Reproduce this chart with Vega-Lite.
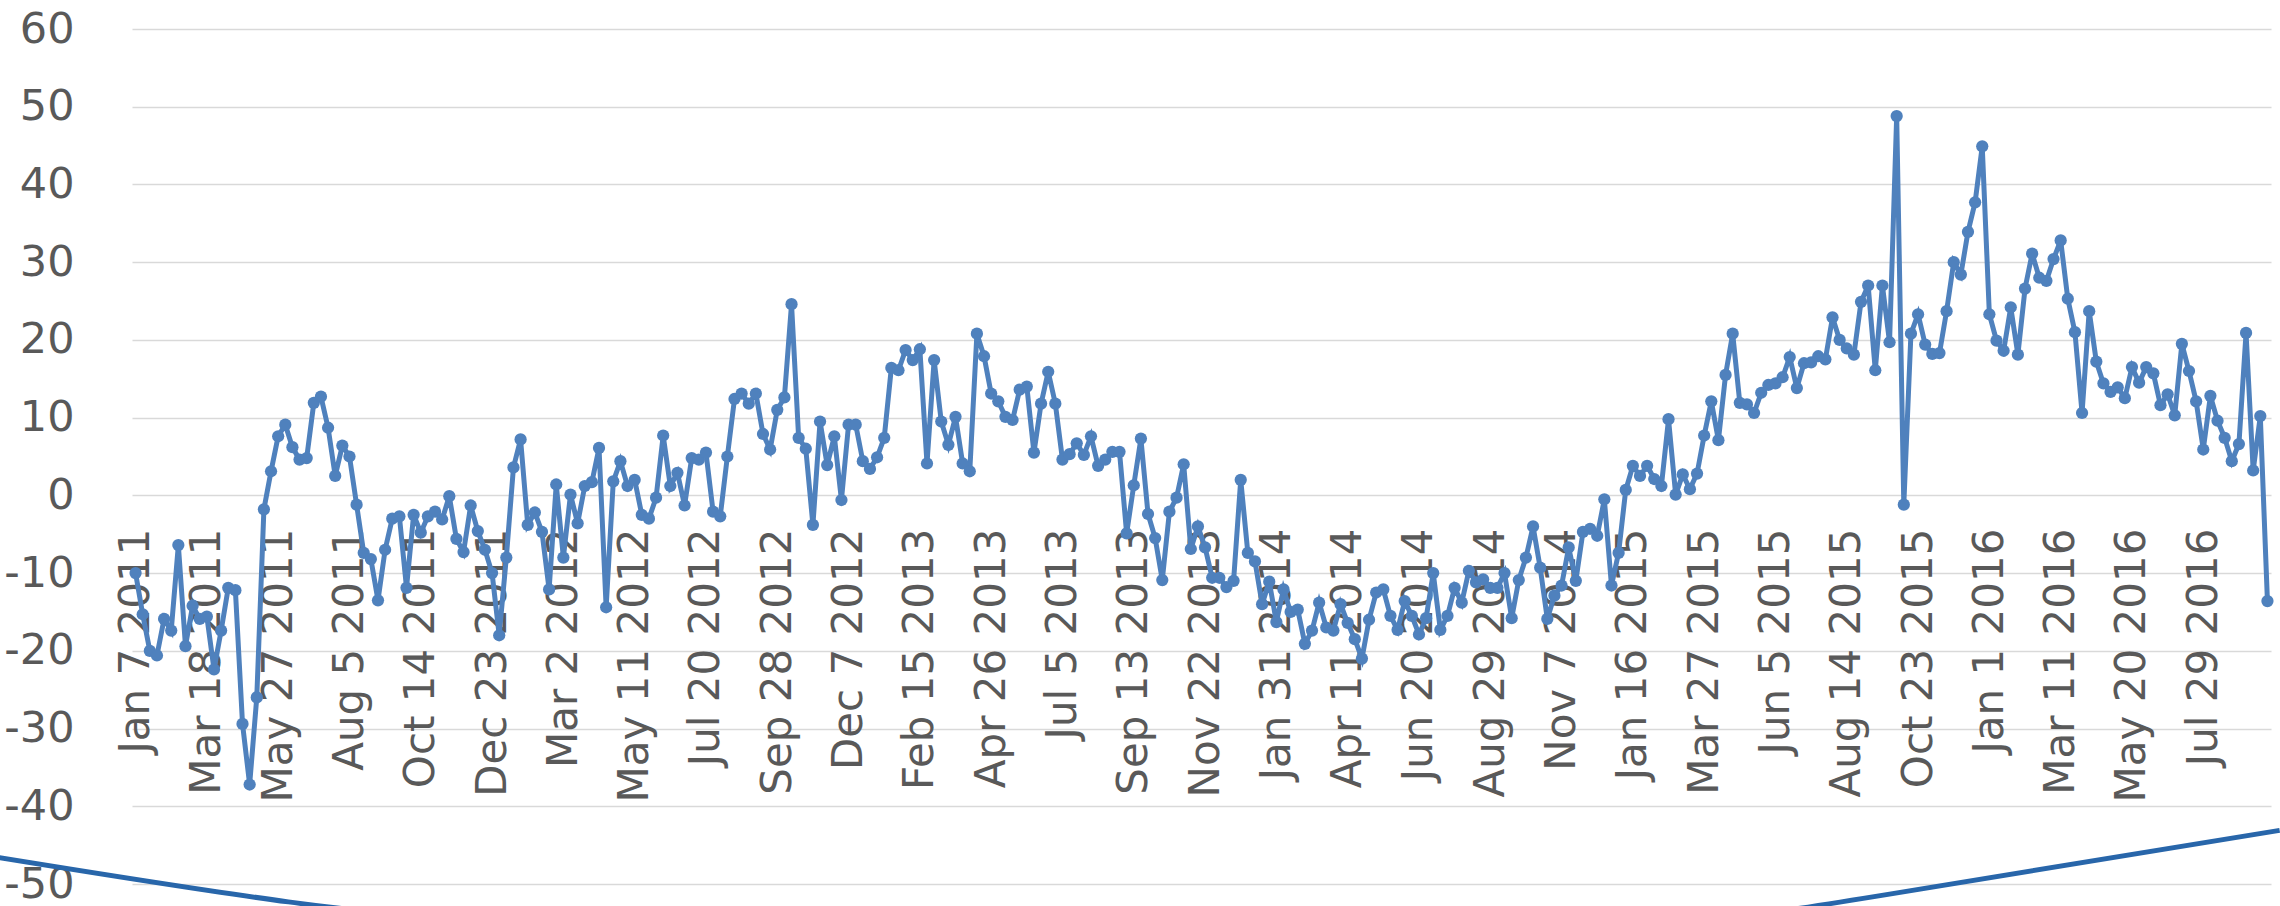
{
"$schema": "https://vega.github.io/schema/vega-lite/v6.json",
"width": 2139, "height": 855,
"autosize": {"type": "none"},
"padding": {"left": 132, "top": 29, "right": 9, "bottom": 22},
"background": "white",
"config": {"view": {"stroke": null}, "font": "DejaVu Sans"},
"datasets": {
"s": [
{"d":"2011-01-07","v":-10.0},{"d":"2011-01-14","v":-15.3},{"d":"2011-01-21","v":-20.0},{"d":"2011-01-28","v":-20.6},{"d":"2011-02-04","v":-15.9},{"d":"2011-02-11","v":-17.4},{"d":"2011-02-18","v":-6.4},{"d":"2011-02-25","v":-19.4},{"d":"2011-03-04","v":-14.2},{"d":"2011-03-11","v":-15.9},
{"d":"2011-03-18","v":-15.6},{"d":"2011-03-25","v":-22.4},{"d":"2011-04-01","v":-17.4},{"d":"2011-04-08","v":-11.9},{"d":"2011-04-15","v":-12.2},{"d":"2011-04-22","v":-29.4},{"d":"2011-04-29","v":-37.2},{"d":"2011-05-06","v":-26.0},{"d":"2011-05-13","v":-1.8},{"d":"2011-05-20","v":3.1},
{"d":"2011-05-27","v":7.6},{"d":"2011-06-03","v":9.1},{"d":"2011-06-10","v":6.2},{"d":"2011-06-17","v":4.6},{"d":"2011-06-24","v":4.8},{"d":"2011-07-01","v":11.9},{"d":"2011-07-08","v":12.7},{"d":"2011-07-15","v":8.7},{"d":"2011-07-22","v":2.5},{"d":"2011-07-29","v":6.4},
{"d":"2011-08-05","v":5.0},{"d":"2011-08-12","v":-1.2},{"d":"2011-08-19","v":-7.4},{"d":"2011-08-26","v":-8.2},{"d":"2011-09-02","v":-13.5},{"d":"2011-09-09","v":-7.0},{"d":"2011-09-16","v":-3.0},{"d":"2011-09-23","v":-2.7},{"d":"2011-09-30","v":-11.9},{"d":"2011-10-07","v":-2.5},
{"d":"2011-10-14","v":-4.8},{"d":"2011-10-21","v":-2.7},{"d":"2011-10-28","v":-2.1},{"d":"2011-11-04","v":-3.1},{"d":"2011-11-11","v":-0.1},{"d":"2011-11-18","v":-5.6},{"d":"2011-11-25","v":-7.3},{"d":"2011-12-02","v":-1.3},{"d":"2011-12-09","v":-4.6},{"d":"2011-12-16","v":-7.0},
{"d":"2011-12-23","v":-10.0},{"d":"2011-12-30","v":-18.0},{"d":"2012-01-06","v":-8.0},{"d":"2012-01-13","v":3.6},{"d":"2012-01-20","v":7.2},{"d":"2012-01-27","v":-3.8},{"d":"2012-02-03","v":-2.2},{"d":"2012-02-10","v":-4.7},{"d":"2012-02-17","v":-12.1},{"d":"2012-02-24","v":1.4},
{"d":"2012-03-02","v":-8.0},{"d":"2012-03-09","v":0.1},{"d":"2012-03-16","v":-3.6},{"d":"2012-03-23","v":1.2},{"d":"2012-03-30","v":1.7},{"d":"2012-04-06","v":6.1},{"d":"2012-04-13","v":-14.4},{"d":"2012-04-20","v":1.8},{"d":"2012-04-27","v":4.4},{"d":"2012-05-04","v":1.2},
{"d":"2012-05-11","v":2.0},{"d":"2012-05-18","v":-2.5},{"d":"2012-05-25","v":-3.0},{"d":"2012-06-01","v":-0.3},{"d":"2012-06-08","v":7.7},{"d":"2012-06-15","v":1.2},{"d":"2012-06-22","v":2.9},{"d":"2012-06-29","v":-1.3},{"d":"2012-07-06","v":4.8},{"d":"2012-07-13","v":4.6},
{"d":"2012-07-20","v":5.5},{"d":"2012-07-27","v":-2.1},{"d":"2012-08-03","v":-2.7},{"d":"2012-08-10","v":5.0},{"d":"2012-08-17","v":12.4},{"d":"2012-08-24","v":13.1},{"d":"2012-08-31","v":11.8},{"d":"2012-09-07","v":13.1},{"d":"2012-09-14","v":7.9},{"d":"2012-09-21","v":5.9},
{"d":"2012-09-28","v":11.0},{"d":"2012-10-05","v":12.6},{"d":"2012-10-12","v":24.6},{"d":"2012-10-19","v":7.4},{"d":"2012-10-26","v":6.0},{"d":"2012-11-02","v":-3.8},{"d":"2012-11-09","v":9.5},{"d":"2012-11-16","v":3.9},{"d":"2012-11-23","v":7.6},{"d":"2012-11-30","v":-0.6},
{"d":"2012-12-07","v":9.1},{"d":"2012-12-14","v":9.1},{"d":"2012-12-21","v":4.4},{"d":"2012-12-28","v":3.4},{"d":"2013-01-04","v":4.9},{"d":"2013-01-11","v":7.4},{"d":"2013-01-18","v":16.4},{"d":"2013-01-25","v":16.1},{"d":"2013-02-01","v":18.7},{"d":"2013-02-08","v":17.4},
{"d":"2013-02-15","v":18.8},{"d":"2013-02-22","v":4.1},{"d":"2013-03-01","v":17.4},{"d":"2013-03-08","v":9.5},{"d":"2013-03-15","v":6.5},{"d":"2013-03-22","v":10.1},{"d":"2013-03-29","v":4.1},{"d":"2013-04-05","v":3.1},{"d":"2013-04-12","v":20.8},{"d":"2013-04-19","v":17.9},
{"d":"2013-04-26","v":13.1},{"d":"2013-05-03","v":12.1},{"d":"2013-05-10","v":10.1},{"d":"2013-05-17","v":9.7},{"d":"2013-05-24","v":13.6},{"d":"2013-05-31","v":14.0},{"d":"2013-06-07","v":5.5},{"d":"2013-06-14","v":11.8},{"d":"2013-06-21","v":15.9},{"d":"2013-06-28","v":11.8},
{"d":"2013-07-05","v":4.6},{"d":"2013-07-12","v":5.3},{"d":"2013-07-19","v":6.7},{"d":"2013-07-26","v":5.2},{"d":"2013-08-02","v":7.6},{"d":"2013-08-09","v":3.8},{"d":"2013-08-16","v":4.6},{"d":"2013-08-23","v":5.6},{"d":"2013-08-30","v":5.6},{"d":"2013-09-06","v":-4.9},
{"d":"2013-09-13","v":1.3},{"d":"2013-09-20","v":7.3},{"d":"2013-09-27","v":-2.4},{"d":"2013-10-04","v":-5.5},{"d":"2013-10-11","v":-10.9},{"d":"2013-10-18","v":-2.1},{"d":"2013-10-25","v":-0.3},{"d":"2013-11-01","v":4.0},{"d":"2013-11-08","v":-6.9},{"d":"2013-11-15","v":-4.0},
{"d":"2013-11-22","v":-6.7},{"d":"2013-11-29","v":-10.6},{"d":"2013-12-06","v":-10.6},{"d":"2013-12-13","v":-11.8},{"d":"2013-12-20","v":-11.0},{"d":"2013-12-27","v":2.0},{"d":"2014-01-03","v":-7.4},{"d":"2014-01-10","v":-8.5},{"d":"2014-01-17","v":-14.0},{"d":"2014-01-24","v":-11.1},
{"d":"2014-01-31","v":-16.3},{"d":"2014-02-07","v":-12.1},{"d":"2014-02-14","v":-15.0},{"d":"2014-02-21","v":-14.7},{"d":"2014-02-28","v":-19.1},{"d":"2014-03-07","v":-17.4},{"d":"2014-03-14","v":-13.8},{"d":"2014-03-21","v":-17.0},{"d":"2014-03-28","v":-17.4},{"d":"2014-04-04","v":-14.0},
{"d":"2014-04-11","v":-16.4},{"d":"2014-04-18","v":-18.5},{"d":"2014-04-25","v":-21.0},{"d":"2014-05-02","v":-16.0},{"d":"2014-05-09","v":-12.5},{"d":"2014-05-16","v":-12.1},{"d":"2014-05-23","v":-15.5},{"d":"2014-05-30","v":-17.3},{"d":"2014-06-06","v":-13.6},{"d":"2014-06-13","v":-15.5},
{"d":"2014-06-20","v":-17.9},{"d":"2014-06-27","v":-15.8},{"d":"2014-07-04","v":-10.0},{"d":"2014-07-11","v":-17.3},{"d":"2014-07-18","v":-15.5},{"d":"2014-07-25","v":-11.9},{"d":"2014-08-01","v":-13.8},{"d":"2014-08-08","v":-9.7},{"d":"2014-08-15","v":-11.2},{"d":"2014-08-22","v":-10.8},
{"d":"2014-08-29","v":-11.9},{"d":"2014-09-05","v":-11.9},{"d":"2014-09-12","v":-10.0},{"d":"2014-09-19","v":-15.8},{"d":"2014-09-26","v":-10.9},{"d":"2014-10-03","v":-8.0},{"d":"2014-10-10","v":-4.0},{"d":"2014-10-17","v":-9.3},{"d":"2014-10-24","v":-15.9},{"d":"2014-10-31","v":-12.9},
{"d":"2014-11-07","v":-11.6},{"d":"2014-11-14","v":-6.7},{"d":"2014-11-21","v":-11.0},{"d":"2014-11-28","v":-4.7},{"d":"2014-12-05","v":-4.3},{"d":"2014-12-12","v":-5.2},{"d":"2014-12-19","v":-0.5},{"d":"2014-12-26","v":-11.6},{"d":"2015-01-02","v":-7.4},{"d":"2015-01-09","v":0.7},
{"d":"2015-01-16","v":3.8},{"d":"2015-01-23","v":2.5},{"d":"2015-01-30","v":3.8},{"d":"2015-02-06","v":2.1},{"d":"2015-02-13","v":1.2},{"d":"2015-02-20","v":9.8},{"d":"2015-02-27","v":0.1},{"d":"2015-03-06","v":2.7},{"d":"2015-03-13","v":0.8},{"d":"2015-03-20","v":2.8},
{"d":"2015-03-27","v":7.7},{"d":"2015-04-03","v":12.1},{"d":"2015-04-10","v":7.1},{"d":"2015-04-17","v":15.5},{"d":"2015-04-24","v":20.8},{"d":"2015-05-01","v":11.9},{"d":"2015-05-08","v":11.7},{"d":"2015-05-15","v":10.6},{"d":"2015-05-22","v":13.2},{"d":"2015-05-29","v":14.2},
{"d":"2015-06-05","v":14.4},{"d":"2015-06-12","v":15.2},{"d":"2015-06-19","v":17.8},{"d":"2015-06-26","v":13.8},{"d":"2015-07-03","v":17.0},{"d":"2015-07-10","v":17.1},{"d":"2015-07-17","v":17.9},{"d":"2015-07-24","v":17.5},{"d":"2015-07-31","v":22.9},{"d":"2015-08-07","v":20.0},
{"d":"2015-08-14","v":18.9},{"d":"2015-08-21","v":18.1},{"d":"2015-08-28","v":24.9},{"d":"2015-09-04","v":27.0},{"d":"2015-09-11","v":16.1},{"d":"2015-09-18","v":27.0},{"d":"2015-09-25","v":19.7},{"d":"2015-10-02","v":48.8},{"d":"2015-10-09","v":-1.2},{"d":"2015-10-16","v":20.8},
{"d":"2015-10-23","v":23.3},{"d":"2015-10-30","v":19.4},{"d":"2015-11-06","v":18.2},{"d":"2015-11-13","v":18.3},{"d":"2015-11-20","v":23.7},{"d":"2015-11-27","v":30.0},{"d":"2015-12-04","v":28.4},{"d":"2015-12-11","v":33.9},{"d":"2015-12-18","v":37.7},{"d":"2015-12-25","v":44.9},
{"d":"2016-01-01","v":23.3},{"d":"2016-01-08","v":19.9},{"d":"2016-01-15","v":18.6},{"d":"2016-01-22","v":24.2},{"d":"2016-01-29","v":18.1},{"d":"2016-02-05","v":26.6},{"d":"2016-02-12","v":31.1},{"d":"2016-02-19","v":28.0},{"d":"2016-02-26","v":27.6},{"d":"2016-03-04","v":30.4},
{"d":"2016-03-11","v":32.8},{"d":"2016-03-18","v":25.3},{"d":"2016-03-25","v":21.0},{"d":"2016-04-01","v":10.6},{"d":"2016-04-08","v":23.7},{"d":"2016-04-15","v":17.2},{"d":"2016-04-22","v":14.4},{"d":"2016-04-29","v":13.3},{"d":"2016-05-06","v":13.9},{"d":"2016-05-13","v":12.5},
{"d":"2016-05-20","v":16.5},{"d":"2016-05-27","v":14.5},{"d":"2016-06-03","v":16.5},{"d":"2016-06-10","v":15.7},{"d":"2016-06-17","v":11.6},{"d":"2016-06-24","v":13.0},{"d":"2016-07-01","v":10.3},{"d":"2016-07-08","v":19.5},{"d":"2016-07-15","v":16.0},{"d":"2016-07-22","v":12.1},
{"d":"2016-07-29","v":5.9},{"d":"2016-08-05","v":12.8},{"d":"2016-08-12","v":9.6},{"d":"2016-08-19","v":7.4},{"d":"2016-08-26","v":4.4},{"d":"2016-09-02","v":6.6},{"d":"2016-09-09","v":20.9},{"d":"2016-09-16","v":3.2},{"d":"2016-09-23","v":10.2},{"d":"2016-09-30","v":-13.6}
],
"arc": [
{"d":"2010-08-26","v":-46.6},{"d":"2011-06-06","v":-52.3},{"d":"2012-03-19","v":-55.8},{"d":"2013-08-01","v":-58.4},{"d":"2014-12-13","v":-56.0},{"d":"2015-09-25","v":-51.3},{"d":"2016-10-12","v":-43.1}
]
},
"encoding": {
"x": {"field": "d", "type": "temporal",
 "scale": {"type": "utc", "domain": [{"year":2011,"month":1,"date":3,"hours":12,"utc":true},{"year":2016,"month":10,"date":3,"hours":12,"utc":true}]},
 "axis": {"title": null, "values": [
  {"year":2011,"month":1,"date":7,"utc":true},{"year":2011,"month":3,"date":18,"utc":true},{"year":2011,"month":5,"date":27,"utc":true},{"year":2011,"month":8,"date":5,"utc":true},{"year":2011,"month":10,"date":14,"utc":true},{"year":2011,"month":12,"date":23,"utc":true},
  {"year":2012,"month":3,"date":2,"utc":true},{"year":2012,"month":5,"date":11,"utc":true},{"year":2012,"month":7,"date":20,"utc":true},{"year":2012,"month":9,"date":28,"utc":true},{"year":2012,"month":12,"date":7,"utc":true},
  {"year":2013,"month":2,"date":15,"utc":true},{"year":2013,"month":4,"date":26,"utc":true},{"year":2013,"month":7,"date":5,"utc":true},{"year":2013,"month":9,"date":13,"utc":true},{"year":2013,"month":11,"date":22,"utc":true},
  {"year":2014,"month":1,"date":31,"utc":true},{"year":2014,"month":4,"date":11,"utc":true},{"year":2014,"month":6,"date":20,"utc":true},{"year":2014,"month":8,"date":29,"utc":true},{"year":2014,"month":11,"date":7,"utc":true},
  {"year":2015,"month":1,"date":16,"utc":true},{"year":2015,"month":3,"date":27,"utc":true},{"year":2015,"month":6,"date":5,"utc":true},{"year":2015,"month":8,"date":14,"utc":true},{"year":2015,"month":10,"date":23,"utc":true},
  {"year":2016,"month":1,"date":1,"utc":true},{"year":2016,"month":3,"date":11,"utc":true},{"year":2016,"month":5,"date":20,"utc":true},{"year":2016,"month":7,"date":29,"utc":true}],
  "labelExpr": "utcFormat(datum.value, '%b %-d %Y')",
  "grid": false, "domain": false, "ticks": false,
  "labelAngle": -90, "labelAlign": "right", "labelBaseline": "middle",
  "labelPadding": 2, "offset": -358, "labelLimit": 0,
  "labelFont": "DejaVu Sans", "labelFontSize": 42, "labelColor": "#595959",
  "labelOverlap": false, "labelBound": false, "labelFlush": false}},
"y": {"field": "v", "type": "quantitative",
 "scale": {"domain": [-50, 60], "nice": false, "zero": false},
 "axis": {"title": null, "values": [-50,-40,-30,-20,-10,0,10,20,30,40,50,60],
  "labelExpr": "'' + datum.value",
  "grid": true, "gridColor": "#D9D9D9", "gridWidth": 1.5,
  "domain": false, "ticks": false, "labelPadding": 58,
  "labelFont": "DejaVu Sans", "labelFontSize": 43, "labelColor": "#595959",
  "labelOverlap": false, "labelBound": false, "labelFlush": false}}
},
"layer": [
{"data": {"name": "s"}, "mark": {"type": "line", "color": "#4F81BD", "strokeWidth": 5, "point": {"filled": true, "size": 150, "color": "#4F81BD", "opacity": 1}}},
{"data": {"name": "arc"}, "mark": {"type": "line", "color": "#2866AA", "strokeWidth": 5, "interpolate": "natural"}}
]
}
